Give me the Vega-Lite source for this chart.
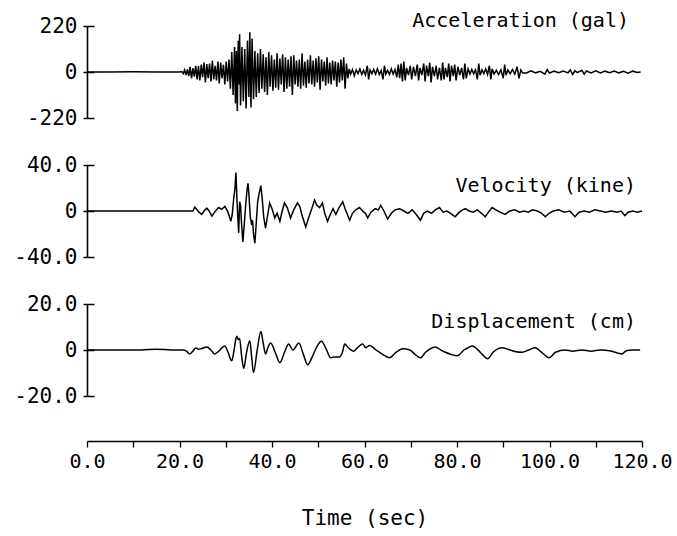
{
  "$schema": "https://vega.github.io/schema/vega-lite/v6.json",
  "background": "white",
  "padding": {"left": 13, "top": 11, "right": 5, "bottom": 5},
  "bounds": "flush",
  "spacing": 47,
  "config": {
    "view": {"stroke": null},
    "font": "DejaVu Sans Mono",
    "axis": {"grid": false, "labelColor": "black", "domainColor": "black", "tickColor": "black", "titleColor": "black", "labelFont": "DejaVu Sans Mono", "titleFont": "DejaVu Sans Mono"}
  },
  "datasets": {
    "acc": [
      {"t":0,"a":0},{"t":5,"a":0},{"t":10,"a":1},{"t":15,"a":0},{"t":20,"a":0},{"t":20.5,"a":2},{"t":20.8,"a":-8},{"t":21.1,"a":10},{"t":21.4,"a":-15},{"t":21.7,"a":12},{"t":22.0,"a":-20},{"t":22.3,"a":25},{"t":22.6,"a":-30},{"t":22.9,"a":18},{"t":23.2,"a":-22},{"t":23.5,"a":30},{"t":23.8,"a":-35},{"t":24.1,"a":28},{"t":24.4,"a":-40},{"t":24.7,"a":35},{"t":25.0,"a":-25},{"t":25.3,"a":45},{"t":25.6,"a":-50},{"t":25.9,"a":38},{"t":26.2,"a":-30},{"t":26.5,"a":40},{"t":26.8,"a":-45},{"t":27.1,"a":55},{"t":27.4,"a":-35},{"t":27.7,"a":30},{"t":28.0,"a":-40},{"t":28.3,"a":50},{"t":28.6,"a":-55},{"t":28.9,"a":45},{"t":29.2,"a":-30},{"t":29.5,"a":35},{"t":29.8,"a":-60},{"t":30.1,"a":50},{"t":30.4,"a":-45},{"t":30.7,"a":60},{"t":31.0,"a":-80},{"t":31.3,"a":95},{"t":31.6,"a":-110},{"t":31.9,"a":120},{"t":32.1,"a":-150},{"t":32.3,"a":100},{"t":32.5,"a":-186},{"t":32.7,"a":150},{"t":32.85,"a":-60},{"t":33.0,"a":180},{"t":33.2,"a":-160},{"t":33.5,"a":120},{"t":33.8,"a":-140},{"t":34.1,"a":110},{"t":34.4,"a":-175},{"t":34.7,"a":150},{"t":35.0,"a":-120},{"t":35.2,"a":190},{"t":35.45,"a":-170},{"t":35.7,"a":160},{"t":36.0,"a":-130},{"t":36.3,"a":100},{"t":36.6,"a":-120},{"t":36.9,"a":90},{"t":37.2,"a":-100},{"t":37.5,"a":110},{"t":37.8,"a":-80},{"t":38.1,"a":85},{"t":38.4,"a":-95},{"t":38.7,"a":70},{"t":39.0,"a":-110},{"t":39.3,"a":95},{"t":39.6,"a":-70},{"t":39.9,"a":80},{"t":40.2,"a":-90},{"t":40.5,"a":60},{"t":40.8,"a":-75},{"t":41.1,"a":90},{"t":41.4,"a":-85},{"t":41.7,"a":65},{"t":42.0,"a":-60},{"t":42.3,"a":85},{"t":42.6,"a":-95},{"t":42.9,"a":70},{"t":43.2,"a":-80},{"t":43.5,"a":60},{"t":43.8,"a":-70},{"t":44.1,"a":75},{"t":44.4,"a":-110},{"t":44.7,"a":80},{"t":45.0,"a":-60},{"t":45.3,"a":55},{"t":45.6,"a":-70},{"t":45.9,"a":60},{"t":46.2,"a":-80},{"t":46.5,"a":90},{"t":46.8,"a":-65},{"t":47.1,"a":50},{"t":47.4,"a":-75},{"t":47.7,"a":60},{"t":48.0,"a":-55},{"t":48.3,"a":80},{"t":48.6,"a":-60},{"t":48.9,"a":55},{"t":49.2,"a":-70},{"t":49.5,"a":65},{"t":49.8,"a":-50},{"t":50.1,"a":75},{"t":50.4,"a":-85},{"t":50.7,"a":60},{"t":51.0,"a":-45},{"t":51.3,"a":50},{"t":51.6,"a":-65},{"t":51.9,"a":70},{"t":52.2,"a":-55},{"t":52.5,"a":45},{"t":52.8,"a":-60},{"t":53.1,"a":55},{"t":53.4,"a":-40},{"t":53.7,"a":50},{"t":54.0,"a":-70},{"t":54.3,"a":45},{"t":54.6,"a":-50},{"t":54.9,"a":60},{"t":55.2,"a":-40},{"t":55.5,"a":70},{"t":55.8,"a":-80},
      {"t":56.1,"a":40},{"t":56.4,"a":-30},{"t":56.7,"a":15},{"t":57.0,"a":-10},{"t":57.4,"a":12},{"t":57.8,"a":-18},{"t":58.2,"a":10},{"t":58.6,"a":-8},{"t":59.0,"a":15},{"t":59.4,"a":-12},{"t":59.8,"a":8},{"t":60.2,"a":-15},{"t":60.6,"a":30},{"t":60.9,"a":-35},{"t":61.2,"a":10},{"t":61.6,"a":-8},{"t":62.0,"a":12},{"t":62.4,"a":-10},{"t":62.8,"a":15},{"t":63.2,"a":-12},{"t":63.6,"a":8},{"t":64.0,"a":-35},{"t":64.3,"a":30},{"t":64.6,"a":-10},{"t":65.0,"a":8},{"t":65.4,"a":-12},{"t":65.8,"a":15},{"t":66.2,"a":-10},{"t":66.6,"a":12},{"t":67.0,"a":-25},{"t":67.3,"a":35},{"t":67.6,"a":-30},{"t":67.9,"a":40},{"t":68.2,"a":-45},{"t":68.5,"a":50},{"t":68.8,"a":-40},{"t":69.1,"a":20},{"t":69.5,"a":-15},{"t":69.9,"a":30},{"t":70.2,"a":-35},{"t":70.6,"a":25},{"t":71.0,"a":-20},{"t":71.4,"a":35},{"t":71.7,"a":-40},{"t":72.0,"a":20},{"t":72.4,"a":-15},{"t":72.8,"a":40},{"t":73.1,"a":-45},{"t":73.4,"a":30},{"t":73.8,"a":-20},{"t":74.1,"a":45},{"t":74.4,"a":-50},{"t":74.7,"a":25},{"t":75.1,"a":-20},{"t":75.5,"a":30},{"t":75.8,"a":-35},{"t":76.2,"a":20},{"t":76.6,"a":-40},{"t":76.9,"a":45},{"t":77.2,"a":-35},{"t":77.5,"a":20},{"t":77.9,"a":-25},{"t":78.2,"a":40},{"t":78.5,"a":-45},{"t":78.8,"a":30},{"t":79.2,"a":-20},{"t":79.5,"a":35},{"t":79.8,"a":-40},{"t":80.2,"a":25},{"t":80.6,"a":-15},{"t":81.0,"a":20},{"t":81.4,"a":-35},{"t":81.7,"a":40},{"t":82.0,"a":-30},{"t":82.4,"a":15},{"t":82.8,"a":-10},{"t":83.2,"a":12},{"t":83.6,"a":-8},{"t":84.0,"a":10},{"t":84.4,"a":-35},{"t":84.7,"a":40},{"t":85.0,"a":-15},{"t":85.4,"a":10},{"t":85.8,"a":-8},{"t":86.2,"a":15},{"t":86.6,"a":-12},{"t":87.0,"a":30},{"t":87.3,"a":-35},{"t":87.6,"a":15},{"t":88.0,"a":-10},{"t":88.5,"a":8},{"t":89.0,"a":-12},{"t":89.5,"a":10},{"t":90.0,"a":-30},{"t":90.3,"a":35},{"t":90.6,"a":-15},{"t":91.0,"a":10},{"t":91.5,"a":-8},{"t":92.0,"a":12},{"t":92.5,"a":-10},{"t":93.0,"a":25},{"t":93.4,"a":-30},{"t":93.8,"a":10},{"t":94.2,"a":-5},
      {"t":95,"a":-5},{"t":96,"a":6},{"t":97,"a":-4},{"t":98,"a":3},{"t":99,"a":-10},{"t":99.5,"a":12},{"t":100,"a":-5},{"t":101,"a":4},{"t":102,"a":-3},{"t":103,"a":5},{"t":104,"a":-4},{"t":104.5,"a":10},{"t":105,"a":-12},{"t":105.5,"a":6},{"t":106,"a":-3},{"t":107,"a":8},{"t":107.5,"a":-10},{"t":108,"a":5},{"t":109,"a":-4},{"t":110,"a":6},{"t":111,"a":-5},{"t":112,"a":4},{"t":113,"a":-3},{"t":114,"a":5},{"t":115,"a":-4},{"t":116,"a":3},{"t":117,"a":-6},{"t":118,"a":4},{"t":119,"a":-2},{"t":119.7,"a":0}
    ],
    "vel": [
      {"t":0,"v":0},{"t":10,"v":0},{"t":20,"v":0},{"t":22.9,"v":0},{"t":23.3,"v":3.4},{"t":23.8,"v":1},{"t":24.2,"v":-1},{"t":24.8,"v":-3},{"t":25.3,"v":0},{"t":25.9,"v":2.5},{"t":26.4,"v":0},{"t":27.0,"v":-4.5},{"t":27.6,"v":-1},{"t":28.0,"v":1},{"t":28.5,"v":3},{"t":29.1,"v":1.5},{"t":29.8,"v":4},{"t":30.4,"v":0},{"t":30.8,"v":-5},{"t":31.1,"v":-9},{"t":31.4,"v":-3},{"t":31.7,"v":10},{"t":32.0,"v":20},{"t":32.2,"v":33.5},{"t":32.4,"v":12},{"t":32.6,"v":-5},{"t":32.8,"v":-19},{"t":33.0,"v":8},{"t":33.2,"v":5},{"t":33.4,"v":-10},{"t":33.7,"v":-27},{"t":34.0,"v":-12},{"t":34.3,"v":5},{"t":34.6,"v":18},{"t":34.8,"v":24},{"t":35.0,"v":15},{"t":35.3,"v":-5},{"t":35.6,"v":-12},{"t":35.8,"v":-8},{"t":36.0,"v":-20},{"t":36.3,"v":-28},{"t":36.6,"v":-10},{"t":36.9,"v":8},{"t":37.2,"v":15},{"t":37.6,"v":22},{"t":37.9,"v":10},{"t":38.2,"v":-5},{"t":38.6,"v":-15},{"t":39.0,"v":-5},{"t":39.5,"v":7},{"t":40.0,"v":2},{"t":40.6,"v":-6},{"t":41.1,"v":-2},{"t":41.7,"v":-9},{"t":42.2,"v":0},{"t":42.7,"v":7},{"t":43.3,"v":3},{"t":44.0,"v":-6},{"t":44.7,"v":1},{"t":45.5,"v":7},{"t":46.0,"v":4},{"t":46.5,"v":-4},{"t":47.3,"v":-14},{"t":47.9,"v":-6},{"t":48.6,"v":2},{"t":49.2,"v":9.5},{"t":49.7,"v":5},{"t":50.3,"v":3},{"t":50.9,"v":7},{"t":51.4,"v":-2},{"t":52.0,"v":-9},{"t":52.6,"v":-3},{"t":53.2,"v":2},{"t":53.8,"v":-3},{"t":54.5,"v":3},{"t":55.3,"v":8},{"t":55.8,"v":2},{"t":56.3,"v":-3},{"t":56.8,"v":-8},{"t":57.4,"v":-2},{"t":58.1,"v":1},{"t":58.9,"v":3},{"t":59.6,"v":0},{"t":60.2,"v":-2},{"t":60.7,"v":-6},{"t":61.4,"v":-1},{"t":62.3,"v":2},{"t":63.0,"v":1},{"t":63.5,"v":5},{"t":64.2,"v":0},{"t":65.0,"v":-7},{"t":65.8,"v":-2},{"t":66.6,"v":1},{"t":67.6,"v":2},{"t":68.5,"v":0},{"t":69.4,"v":-2},{"t":70.3,"v":1},{"t":71.2,"v":-3},{"t":72.1,"v":-8},{"t":72.8,"v":-2},{"t":73.6,"v":0},{"t":74.5,"v":-2},{"t":75.3,"v":1},{"t":76.2,"v":3},{"t":77.0,"v":-1},{"t":77.8,"v":0},{"t":78.6,"v":-2},{"t":79.6,"v":-5},{"t":80.5,"v":-1},{"t":81.2,"v":1},{"t":81.8,"v":2},{"t":82.6,"v":0},{"t":83.5,"v":-1},{"t":84.4,"v":1},{"t":85.3,"v":-2},{"t":86.1,"v":-5},{"t":86.8,"v":-1},{"t":87.6,"v":3},{"t":88.4,"v":1},{"t":89.3,"v":-1},{"t":90.4,"v":-3},{"t":91.4,"v":0},{"t":92.5,"v":1},{"t":93.5,"v":-1},{"t":94.5,"v":0},{"t":95.4,"v":-1},{"t":96.3,"v":1},{"t":97.4,"v":0},{"t":98.3,"v":-2},{"t":99.1,"v":-5},{"t":99.9,"v":-2},{"t":100.8,"v":0},{"t":102,"v":1},{"t":103.2,"v":-1},{"t":104.4,"v":0},{"t":105.5,"v":-5},{"t":106.4,"v":-1},{"t":107.5,"v":0},{"t":108.6,"v":-1},{"t":109.8,"v":1},{"t":111,"v":0},{"t":112.2,"v":-1},{"t":113.4,"v":0},{"t":114.6,"v":-1},{"t":115.5,"v":0},{"t":116.3,"v":-4},{"t":117.0,"v":-1},{"t":118,"v":0},{"t":119,"v":-1},{"t":120,"v":0}
    ],
    "dis": [
      {"t":0,"d":0},{"t":10,"d":0},{"t":15,"d":0.3},{"t":20,"d":0},{"t":20.7,"d":0},{"t":21.5,"d":-0.5},{"t":22.2,"d":-1.7},{"t":22.9,"d":-0.5},{"t":23.5,"d":0.9},{"t":24.2,"d":0.3},{"t":25.0,"d":0.8},{"t":25.9,"d":1.3},{"t":26.8,"d":0},{"t":27.6,"d":-1.7},{"t":28.5,"d":-0.5},{"t":29.2,"d":1},{"t":29.8,"d":1.7},{"t":30.5,"d":-1},{"t":31.3,"d":-4.7},{"t":31.8,"d":0},{"t":32.2,"d":5},{"t":32.4,"d":6},{"t":32.7,"d":4.5},{"t":33.0,"d":5},{"t":33.4,"d":-2},{"t":33.9,"d":-8},{"t":34.5,"d":-1},{"t":35.2,"d":4},{"t":35.6,"d":-3},{"t":36.0,"d":-9.8},{"t":36.8,"d":0},{"t":37.6,"d":8},{"t":38.1,"d":3},{"t":38.6,"d":-1.7},{"t":39.1,"d":1},{"t":39.7,"d":3},{"t":40.7,"d":-1},{"t":41.7,"d":-5.5},{"t":42.7,"d":-1},{"t":43.6,"d":2.6},{"t":44.5,"d":0},{"t":45.8,"d":3},{"t":46.8,"d":-2},{"t":47.7,"d":-6.4},{"t":48.7,"d":-3},{"t":49.7,"d":1.5},{"t":50.7,"d":3.8},{"t":51.7,"d":0.5},{"t":52.7,"d":-3.4},{"t":53.3,"d":-3},{"t":54.5,"d":-3},{"t":55.3,"d":-0.5},{"t":55.7,"d":2.6},{"t":56.5,"d":1},{"t":57.6,"d":-0.5},{"t":58.5,"d":1},{"t":59.6,"d":2.6},{"t":60.3,"d":1},{"t":61.1,"d":2},{"t":62.5,"d":0},{"t":64.0,"d":-2},{"t":65.4,"d":-3.4},{"t":66.8,"d":-1},{"t":68.3,"d":0.5},{"t":69.8,"d":0},{"t":71.0,"d":-2},{"t":72.1,"d":-3.4},{"t":73.2,"d":-1},{"t":74.2,"d":0.5},{"t":75.3,"d":1.3},{"t":76.5,"d":0},{"t":77.5,"d":-1},{"t":78.8,"d":-2},{"t":80.1,"d":-2.5},{"t":81.5,"d":0},{"t":82.4,"d":1},{"t":83.3,"d":1.7},{"t":84.3,"d":0.5},{"t":85.5,"d":-2},{"t":86.6,"d":-3.8},{"t":87.8,"d":-1},{"t":88.8,"d":0.5},{"t":89.8,"d":1},{"t":91.0,"d":0.3},{"t":92.3,"d":-0.5},{"t":94.1,"d":-1},{"t":95.5,"d":0},{"t":96.9,"d":1},{"t":98.3,"d":-1},{"t":99.9,"d":-3.4},{"t":101.3,"d":-1},{"t":103.4,"d":0},{"t":105,"d":-0.5},{"t":107,"d":0},{"t":109,"d":-0.5},{"t":111,"d":0},{"t":113,"d":-0.3},{"t":115.7,"d":-1.7},{"t":116.6,"d":-0.3},{"t":118,"d":0},{"t":119.6,"d":0}
    ]
  },
  "vconcat": [
    {
      "width": 555, "height": 92,
      "title": {"text": "Acceleration (gal)", "anchor": "end", "frame": "group", "orient": "top", "offset": -32, "fontSize": 20, "fontWeight": "normal", "font": "DejaVu Sans Mono", "color": "black", "baseline": "alphabetic", "dx": -13},
      "layer": [
        {
          "data": {"name": "acc"},
          "mark": {"type": "line", "color": "black", "strokeWidth": 1.5},
          "encoding": {
            "x": {"field": "t", "type": "quantitative", "scale": {"domain": [0, 120], "nice": false}, "axis": null},
            "y": {"field": "a", "type": "quantitative", "scale": {"domain": [-220, 220], "nice": false},
                  "axis": {"orient": "left", "values": [-220, 0, 220], "title": null, "labelFontSize": 21, "labelPadding": 6, "tickSize": 4, "tickWidth": 1.5, "domainWidth": 1.6, "labelExpr": "replace(datum.label, '−', '-')"}}
          }
        },
        {
          "mark": {"type": "rule", "color": "black", "strokeWidth": 1.1},
          "encoding": {
            "y": {"datum": 0, "type": "quantitative", "axis": {"orient": "left", "values": [-220, 0, 220], "title": null, "labels": false, "domain": false, "tickSize": -7, "tickWidth": 1.5}}
          }
        }
      ],
      "resolve": {"axis": {"y": "independent"}}
    },
    {
      "width": 555, "height": 92,
      "title": {"text": "Velocity (kine)", "anchor": "end", "frame": "group", "orient": "top", "offset": -58, "fontSize": 20, "fontWeight": "normal", "font": "DejaVu Sans Mono", "color": "black", "baseline": "alphabetic", "dx": -6},
      "layer": [
        {
          "data": {"name": "vel"},
          "mark": {"type": "line", "color": "black", "strokeWidth": 1.5},
          "encoding": {
            "x": {"field": "t", "type": "quantitative", "scale": {"domain": [0, 120], "nice": false}, "axis": null},
            "y": {"field": "v", "type": "quantitative", "scale": {"domain": [-40, 40], "nice": false},
                  "axis": {"orient": "left", "values": [-40, 0, 40], "title": null, "labelFontSize": 21, "labelPadding": 6, "tickSize": 4, "tickWidth": 1.5, "domainWidth": 1.6, "labelExpr": "datum.value == 0 ? '0' : replace(format(datum.value, '.1f'), '−', '-')"}}
          }
        },
        {
          "mark": {"type": "rule", "color": "black", "strokeWidth": 1.1},
          "encoding": {
            "y": {"datum": 0, "type": "quantitative", "axis": {"orient": "left", "values": [-40, 0, 40], "title": null, "labels": false, "domain": false, "tickSize": -7, "tickWidth": 1.5}}
          }
        }
      ],
      "resolve": {"axis": {"y": "independent"}}
    },
    {
      "width": 555, "height": 92,
      "title": {"text": "Displacement (cm)", "anchor": "end", "frame": "group", "orient": "top", "offset": -55, "fontSize": 20, "fontWeight": "normal", "font": "DejaVu Sans Mono", "color": "black", "baseline": "alphabetic", "dx": -6},
      "layer": [
        {
          "data": {"name": "dis"},
          "mark": {"type": "line", "color": "black", "strokeWidth": 1.5, "interpolate": "monotone"},
          "encoding": {
            "x": {"field": "t", "type": "quantitative", "scale": {"domain": [0, 120], "nice": false},
                  "axis": {"orient": "bottom", "offset": 45, "values": [0,10,20,30,40,50,60,70,80,90,100,110,120], "labelExpr": "datum.value % 20 == 0 ? format(datum.value, '.1f') : ''", "labelFlush": false, "labelOverlap": false, "labelFontSize": 20, "labelPadding": 4, "tickSize": 6, "tickWidth": 1.3, "domainWidth": 1.3, "title": "Time (sec)", "titleFontSize": 21, "titleFontWeight": "normal", "titlePadding": 36}},
            "y": {"field": "d", "type": "quantitative", "scale": {"domain": [-20, 20], "nice": false},
                  "axis": {"orient": "left", "values": [-20, 0, 20], "title": null, "labelFontSize": 21, "labelPadding": 6, "tickSize": 4, "tickWidth": 1.5, "domainWidth": 1.6, "labelExpr": "datum.value == 0 ? '0' : replace(format(datum.value, '.1f'), '−', '-')"}}
          }
        },
        {
          "mark": {"type": "rule", "color": "black", "strokeWidth": 1.1},
          "encoding": {
            "y": {"datum": 0, "type": "quantitative", "axis": {"orient": "left", "values": [-20, 0, 20], "title": null, "labels": false, "domain": false, "tickSize": -7, "tickWidth": 1.5}}
          }
        }
      ],
      "resolve": {"axis": {"y": "independent"}}
    }
  ]
}
